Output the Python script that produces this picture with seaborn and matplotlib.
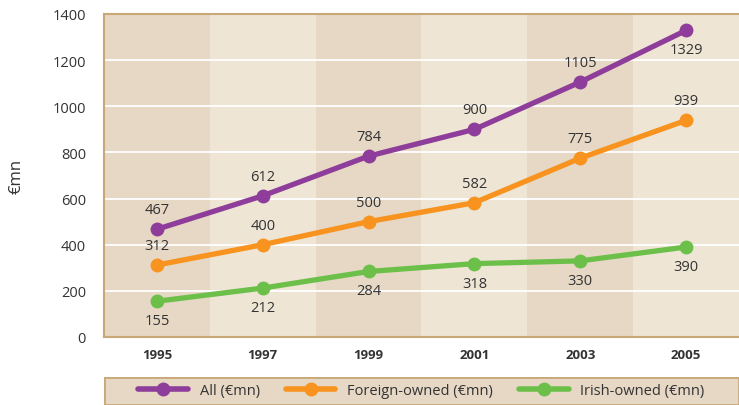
import matplotlib.pyplot as plt
import pandas as pd
import seaborn as sns
from matplotlib.patches import Rectangle

years = ["1995", "1997", "1999", "2001", "2003", "2005"]
all_vals = [467, 612, 784, 900, 1105, 1329]
foreign_vals = [312, 400, 500, 582, 775, 939]
irish_vals = [155, 212, 284, 318, 330, 390]
series_names = ["All (€mn)", "Foreign-owned (€mn)", "Irish-owned (€mn)"]
colors = ["#8e3d9a", "#f7931e", "#6cc04a"]

# label placement per series: +1 above point, -1 below
label_side = {
    "All (€mn)": [1, 1, 1, 1, 1, -1],
    "Foreign-owned (€mn)": [1, 1, 1, 1, 1, 1],
    "Irish-owned (€mn)": [-1, -1, -1, -1, -1, -1],
}

df = pd.DataFrame(
    {
        "year": years * 3,
        "value": all_vals + foreign_vals + irish_vals,
        "series": [s for s in series_names for _ in years],
    }
)

sns.set_theme(style="white")
plt.rcParams["font.family"] = ["Open Sans", "DejaVu Sans"]

band_dark = "#e6d8c5"
band_light = "#eee5d5"
border = "#c9a877"
text_col = "#333333"

fig = plt.figure(figsize=(7.39, 4.06), dpi=100)
ax = fig.add_axes([104 / 739, 68 / 406, 635 / 739, 323 / 406])
ax.set_facecolor(band_light)
ax.grid(False)

# alternating background bands (dark ones over the light face)
band_x = list(range(0, len(years), 2))
ax.bar(band_x, [1400] * len(band_x), width=1.0, color=band_dark, lw=0, zorder=0)
for y in range(200, 1400, 200):
    ax.axhline(y, color="white", lw=1.3, zorder=1)

sns.lineplot(
    data=df, x="year", y="value", hue="series", palette=colors,
    marker="o", markersize=10, markeredgewidth=0, linewidth=3.8,
    ax=ax, zorder=3, legend=False,
)

for name, vals in zip(series_names, [all_vals, foreign_vals, irish_vals]):
    for i, v in enumerate(vals):
        side = label_side[name][i]
        ax.annotate(
            str(v), (i, v), xytext=(0, 14 * side), textcoords="offset points",
            ha="center", va="center", fontsize=10.5, color=text_col, zorder=4,
        )

ax.set_xlim(-0.5, 5.5)
ax.set_ylim(0, 1400)
ax.set_yticks(range(0, 1401, 200))
ax.set_xlabel("")
ax.set_ylabel("€mn", fontsize=12, color=text_col, labelpad=20)
ax.tick_params(axis="y", length=0, labelsize=10.5, labelcolor=text_col, pad=13)
ax.tick_params(axis="x", length=0, labelsize=9.5, labelcolor=text_col, pad=8)
for lbl in ax.get_xticklabels():
    lbl.set_fontweight("bold")
for side in ["top", "left", "bottom"]:
    ax.spines[side].set_color(border)
    ax.spines[side].set_linewidth(1.5)
ax.spines["right"].set_visible(False)

# legend strip at the bottom
lax = fig.add_axes([104 / 739, 0, 635 / 739, 28 / 406])
lax.set_xlim(0, 1)
lax.set_ylim(0, 1)
lax.add_patch(Rectangle((0, 0), 1, 1, facecolor=band_dark, edgecolor=border, lw=2, transform=lax.transAxes))
lax.axis("off")
handles = [
    plt.Line2D([0], [0], color=c, lw=4, marker="o", markersize=10, markevery=[1], markeredgewidth=0)
    for c in colors
]
lax.legend(
    handles, series_names, loc="center", ncol=3, frameon=False, fontsize=10.5,
    handlelength=3.4, columnspacing=1.8, handletextpad=0.8, labelcolor=text_col,
)

fig.savefig("out.png", dpi=100)
